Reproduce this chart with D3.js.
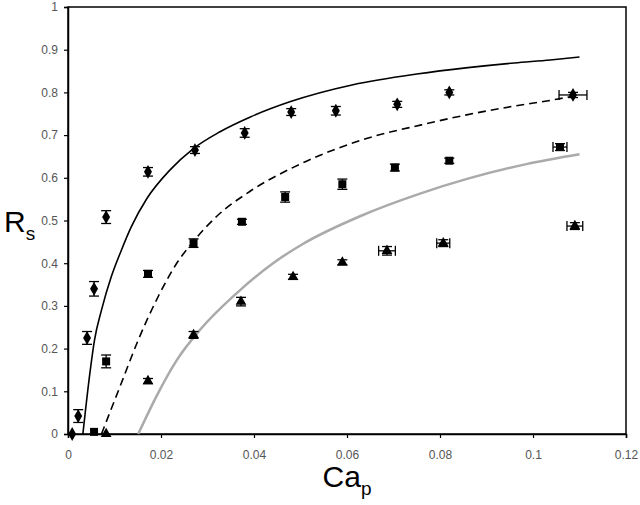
<!DOCTYPE html>
<html><head><meta charset="utf-8">
<script src="https://cdn.jsdelivr.net/npm/d3@7"></script>
<style>body{margin:0;background:#fff}svg{display:block}</style>
</head><body>
<svg id="c" width="640" height="505"></svg>
<script>
// Data
const xTicks = [0, 0.02, 0.04, 0.06, 0.08, 0.1, 0.12];
const xTickLabels = ["0", "0.02", "0.04", "0.06", "0.08", "0.1", "0.12"];
const yTicks = [0, 0.1, 0.2, 0.3, 0.4, 0.5, 0.6, 0.7, 0.8, 0.9, 1];
const yTickLabels = ["0", "0.1", "0.2", "0.3", "0.4", "0.5", "0.6", "0.7", "0.8", "0.9", "1"];

const diamondX = [0.0009, 0.0022, 0.0041, 0.0056, 0.0082, 0.0172, 0.0273, 0.0380, 0.0480, 0.0576, 0.0708, 0.0820, 0.1086];
const diamondY = [0.0, 0.042, 0.225, 0.340, 0.508, 0.614, 0.665, 0.705, 0.754, 0.757, 0.772, 0.800, 0.794];
const diamondYErr = [0, 0.015, 0.015, 0.017, 0.015, 0.010, 0.008, 0.010, 0.008, 0.010, 0.007, 0.006, 0.006];
const diamondXErr = [0, 0, 0, 0, 0, 0, 0, 0, 0, 0, 0, 0, 0.0030];

const squareX = [0.0056, 0.0082, 0.0172, 0.0270, 0.0374, 0.0467, 0.0590, 0.0703, 0.0820, 0.1058];
const squareY = [0.005, 0.170, 0.375, 0.447, 0.497, 0.555, 0.585, 0.624, 0.640, 0.672];
const squareYErr = [0, 0.015, 0.008, 0.010, 0.006, 0.012, 0.012, 0.008, 0.006, 0.008];
const squareXErr = [0, 0, 0, 0, 0, 0, 0, 0, 0, 0.0015];

const triX = [0.0082, 0.0172, 0.0270, 0.0372, 0.0484, 0.0590, 0.0686, 0.0807, 0.1090];
const triY = [0.0, 0.124, 0.232, 0.310, 0.368, 0.402, 0.429, 0.447, 0.487];
const triYErr = [0, 0.006, 0.008, 0.010, 0.006, 0.006, 0.010, 0.008, 0.008];
const triXErr = [0, 0, 0, 0, 0, 0, 0.0018, 0.0014, 0.0017];

const solidX = [0.0032, 0.0047, 0.0057, 0.0072, 0.0093, 0.0115, 0.0136, 0.0170, 0.0219, 0.0269, 0.0327, 0.0391, 0.0477, 0.0613, 0.0750, 0.0860, 0.0960, 0.1037, 0.1100];
const solidY = [0.0, 0.142, 0.220, 0.290, 0.368, 0.431, 0.485, 0.552, 0.618, 0.668, 0.708, 0.742, 0.778, 0.818, 0.843, 0.858, 0.869, 0.876, 0.883];

const dashX = [0.0072, 0.0115, 0.0151, 0.0194, 0.0237, 0.0269, 0.0320, 0.0391, 0.0499, 0.0642, 0.0760, 0.0860, 0.0960, 0.1051, 0.1090];
const dashY = [0.0, 0.120, 0.220, 0.322, 0.405, 0.450, 0.510, 0.568, 0.632, 0.692, 0.724, 0.748, 0.768, 0.784, 0.792];

const grayX = [0.0151, 0.0191, 0.0234, 0.0284, 0.0363, 0.0441, 0.0505, 0.0628, 0.0757, 0.0860, 0.0986, 0.1100];
const grayY = [0.0, 0.090, 0.173, 0.244, 0.330, 0.400, 0.445, 0.510, 0.563, 0.598, 0.632, 0.655];

// Layout
const L = 68, R = 626, T = 7, B = 434;
const svg = d3.select("#c");
const x = d3.scaleLinear().domain([0, 0.12]).range([L, R]);
const y = d3.scaleLinear().domain([0, 1]).range([B, T]);
const font = "Arial, 'Liberation Sans', sans-serif";

// Frame
svg.append("rect").attr("x", L).attr("y", T).attr("width", R - L).attr("height", B - T)
  .attr("fill", "none").attr("stroke", "#000").attr("stroke-width", 1.5);

// Axes
const xAxis = d3.axisBottom(x).tickValues(xTicks).tickFormat((d, i) => xTickLabels[i]).tickSizeOuter(0).tickSize(4).tickPadding(12);
const gx = svg.append("g").attr("transform", `translate(0,${B})`).call(xAxis);
const yAxis = d3.axisLeft(y).tickValues(yTicks).tickFormat((d, i) => yTickLabels[i]).tickSizeOuter(0).tickSize(4).tickPadding(6);
const gy = svg.append("g").attr("transform", `translate(${L},0)`).call(yAxis);
[gx, gy].forEach(g => {
  g.select(".domain").attr("stroke", "#000").attr("stroke-width", 1.5);
  g.selectAll(".tick line").attr("stroke", "#000").attr("stroke-width", 1.2);
  g.selectAll(".tick text").attr("font-family", font).attr("font-size", 12).attr("fill", "#555");
});

// Axis titles
const xt = svg.append("text").attr("x", 347).attr("y", 487).attr("text-anchor", "middle")
  .attr("font-family", font).attr("font-size", 30).attr("fill", "#000");
xt.append("tspan").text("Ca");
xt.append("tspan").attr("font-size", 19).attr("dy", 8).text("p");
const yt = svg.append("text").attr("x", 4).attr("y", 232).attr("text-anchor", "start")
  .attr("font-family", font).attr("font-size", 30).attr("fill", "#000");
yt.append("tspan").text("R");
yt.append("tspan").attr("font-size", 19).attr("dy", 8).text("s");

// Lines
const mk = (xs, ys) => xs.map((v, i) => [v, ys[i]]);
const line = d3.line().x(d => x(d[0])).y(d => y(d[1])).curve(d3.curveMonotoneX);
svg.append("path").attr("d", line(mk(grayX, grayY))).attr("fill", "none").attr("stroke", "#aaa").attr("stroke-width", 2.5);
svg.append("path").attr("d", line(mk(dashX, dashY))).attr("fill", "none").attr("stroke", "#000").attr("stroke-width", 1.6).attr("stroke-dasharray", "8,5");
svg.append("path").attr("d", line(mk(solidX, solidY))).attr("fill", "none").attr("stroke", "#000").attr("stroke-width", 1.6);

// Error bars + markers
function series(xs, ys, yerr, xerr, shape, size) {
  const g = svg.append("g");
  xs.forEach((xv, i) => {
    const cx = x(xv), cy = y(ys[i]);
    if (yerr[i] > 0) {
      const y1 = y(ys[i] + yerr[i]), y2 = y(ys[i] - yerr[i]);
      g.append("line").attr("x1", cx).attr("x2", cx).attr("y1", y1).attr("y2", y2).attr("stroke", "#000").attr("stroke-width", 1.3);
      [y1, y2].forEach(yy => g.append("line").attr("x1", cx - 5).attr("x2", cx + 5).attr("y1", yy).attr("y2", yy).attr("stroke", "#000").attr("stroke-width", 1.3));
    }
    if (xerr[i] > 0) {
      const x1 = x(xv - xerr[i]), x2 = x(xv + xerr[i]);
      g.append("line").attr("x1", x1).attr("x2", x2).attr("y1", cy).attr("y2", cy).attr("stroke", "#000").attr("stroke-width", 1.3);
      [x1, x2].forEach(xx => g.append("line").attr("x1", xx).attr("x2", xx).attr("y1", cy - 5).attr("y2", cy + 5).attr("stroke", "#000").attr("stroke-width", 1.3));
    }
    g.append("path").attr("d", d3.symbol().type(shape).size(size)()).attr("transform", `translate(${cx},${cy})`).attr("fill", "#000");
  });
}
series(diamondX, diamondY, diamondYErr, diamondXErr, d3.symbolDiamond, 55);
series(squareX, squareY, squareYErr, squareXErr, d3.symbolSquare, 64);
series(triX, triY, triYErr, triXErr, d3.symbolTriangle, 50);
</script>
</body></html>
